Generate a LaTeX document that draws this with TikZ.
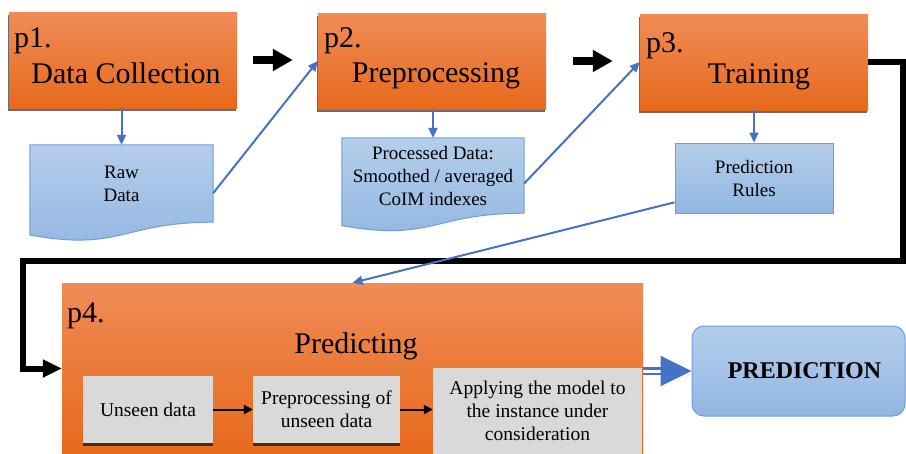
\documentclass[tikz,border=0pt]{standalone}
\usepackage{fontspec}
\setmainfont{Liberation Serif}
\usetikzlibrary{arrows.meta,calc,shadows,backgrounds}
\definecolor{stagetop}{HTML}{F08C57}
\definecolor{stagebot}{HTML}{E7691C}
\definecolor{stageshade}{HTML}{6B6B6B}
\definecolor{doctop}{HTML}{B4CEEA}
\definecolor{docbot}{HTML}{92B6E2}
\definecolor{docline}{HTML}{6A9FDB}
\definecolor{boxgray}{HTML}{D9D9D9}
\definecolor{boxshade}{HTML}{4E2A0C}
\definecolor{linkblue}{HTML}{4472C4}
\tikzset{
  stage/.style={rectangle,inner sep=0,minimum width=228pt,minimum height=96pt,
    top color=stagetop,bottom color=stagebot},
  shaded stage/.style={drop shadow={shadow xshift=-1pt,shadow yshift=-3pt,fill=stageshade,opacity=1}},
  title/.style={inner sep=0,font=\fontsize{30}{34}\selectfont},
  doc/.style={rectangle,inner sep=0,align=center,font=\fontsize{19}{23}\selectfont},
  docfill/.style={top color=doctop,bottom color=docbot,draw=docline,line width=1pt},
  stepbox/.style={rectangle,inner sep=0,align=center,fill=boxgray,minimum height=67pt,
    font=\fontsize{19.5}{23}\selectfont,
    drop shadow={shadow xshift=0pt,shadow yshift=-3pt,fill=boxshade,opacity=1}},
  result/.style={rectangle,rounded corners=12pt,inner sep=0,minimum width=213pt,minimum height=90pt,
    top color=doctop,bottom color=docbot,draw=docline,line width=1pt,
    font=\fontsize{24}{28}\selectfont\bfseries},
  link/.style={linkblue,line width=2pt,-{Triangle[length=10pt,width=9pt]}},
  bigarrow/.style={line width=7.5pt,-{Triangle[length=20pt,width=21pt]}},
  loopback/.style={line width=6pt,-{Triangle[length=19pt,width=17pt]}},
  smallarrow/.style={line width=2pt,-{Triangle[length=9pt,width=9pt]}},
  dblarrow/.style={linkblue,double=white,double distance=3pt,line width=2.2pt,-{Triangle[length=31pt,width=30pt]}}
}
% document shape with a wavy lower edge, laid under node #1
\newcommand{\docshape}[1]{%
  \path[docfill] (#1.north west) -- (#1.north east) -- (#1.south east)
    .. controls (#1.south) and ($(#1.south)!-0.381!(#1.north)$)
    .. ($(#1.south west)!-0.165!(#1.north west)$) -- cycle;}
\begin{document}
\begin{tikzpicture}[x=1pt,y=-1pt]
  \useasboundingbox (0,0) rectangle (906,453);
  % stages
  \node[stage,shaded stage] (p1) at (123,60) {};
  \node[stage,shaded stage] (p2) at (432,61) {};
  \node[stage,shaded stage] (p3) at (754,62) {};
  \node[stage,minimum width=581pt,minimum height=171pt] (p4) at (352.5,368.5) {};
  \node[title,anchor=base west] (p1num) at (14,47) {p1.};
  \node[title,anchor=base] (p1name) at (126,83) {Data Collection};
  \node[title,anchor=base west] (p2num) at (324,47) {p2.};
  \node[title,anchor=base] (p2name) at (436,82) {Preprocessing};
  \node[title,anchor=base west] (p3num) at (646,52) {p3.};
  \node[title,anchor=base] (p3name) at (759,83) {Training};
  \node[title,anchor=base west] (p4num) at (67,322) {p4.};
  \node[title,anchor=base] (p4name) at (356,353) {Predicting};
  % what each stage hands on
  \node[doc,minimum width=183pt,minimum height=77pt] (raw) at (121.5,183.5) {Raw\\Data};
  \node[doc,minimum width=182pt,minimum height=75pt] (proc) at (433,175.5) {Processed Data:\\Smoothed / averaged\\CoIM indexes};
  \node[doc,docfill,minimum width=158pt,minimum height=70pt] (rules) at (754,178) {Prediction\\Rules};
  % steps inside p4
  \node[stepbox,minimum width=130pt] (unseen) at (148,409.5) {Unseen data};
  \node[stepbox,minimum width=147pt] (prep) at (326.5,409.5) {Preprocessing of\\unseen data};
  \node[stepbox,minimum width=209pt,minimum height=86pt] (apply) at (537.5,411) {Applying the model to\\the instance under\\consideration};
  \node[result] (pred) at (798.5,371) {\hspace*{12pt}PREDICTION};
  % connectors
  \draw[bigarrow,shorten <=16pt,shorten >=25pt] (p1.east) -- (p1.east -| p2.west);
  \draw[bigarrow,shorten <=27pt,shorten >=27pt] (p2.east) -- (p2.east -| p3.west);
  \coordinate (turnR) at (903,261);
  \coordinate (turnL) at (22.5,261);
  \draw[loopback] (p3.east) -| (turnR) -- (turnL) |- (p4.west);
  \draw[link] (raw.north |- p1.south) -- (raw.north);
  \draw[link] (raw.-6) -- (p2.west);
  \draw[link] (proc.north |- p2.south) -- (proc.north);
  \draw[link] (proc.-5) -- (p3.west);
  \draw[link] (rules.north |- p3.south) -- (rules.north);
  \draw[link] (rules.197) -- (p4.north);
  \draw[smallarrow] (unseen) -- (prep);
  \draw[smallarrow] (prep) -- (apply.west |- prep.east);
  \draw[dblarrow] (p4.east |- pred.west) -- (pred.west);
  \begin{scope}[on background layer]
    \docshape{raw}
    \docshape{proc}
  \end{scope}
\end{tikzpicture}
\end{document}
